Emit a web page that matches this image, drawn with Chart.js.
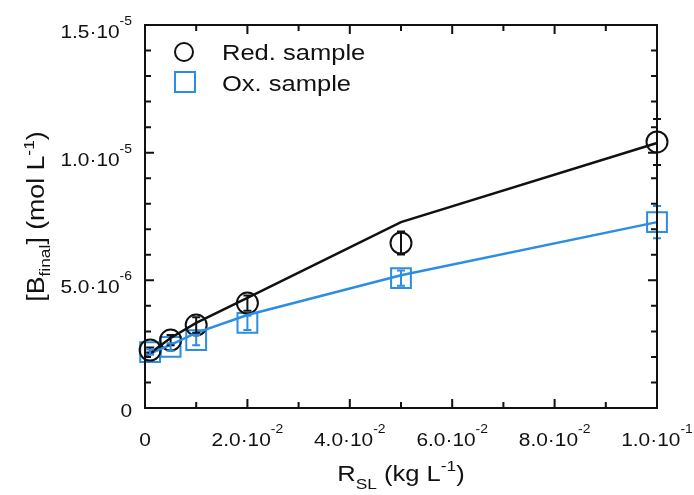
<!DOCTYPE html>
<html>
<head>
<meta charset="utf-8">
<script src="https://cdn.jsdelivr.net/npm/chart.js@4.4.0/dist/chart.umd.min.js"></script>
<style>
html, body { margin: 0; padding: 0; background: #fff; }
</style>
</head>
<body>
<canvas id="chart" width="694" height="495"></canvas>
<script>
// R_SL (kg/L) of the measured points
const rslValues = [0.001, 0.005, 0.01, 0.02, 0.05, 0.1];
// measured [B_final] (mol/L) and error bars
const redMeasured = [2.27e-6, 2.66e-6, 3.25e-6, 4.11e-6, 6.46e-6, 1.042e-5];
const redError = [0.1e-6, 0.2e-6, 0.3e-6, 0.3e-6, 0.45e-6, 0.9e-6];
const oxMeasured = [2.19e-6, 2.39e-6, 2.66e-6, 3.33e-6, 5.09e-6, 7.28e-6];
const oxError = [0.1e-6, 0.15e-6, 0.2e-6, 0.28e-6, 0.3e-6, 0.63e-6];
// model curves
const modelRsl = [0, 0.005, 0.01, 0.02, 0.05, 0.1];
const redModel = [2.0e-6, 2.74e-6, 3.33e-6, 4.31e-6, 7.28e-6, 1.038e-5];
const oxModel = [2.05e-6, 2.47e-6, 2.94e-6, 3.64e-6, 5.2e-6, 7.28e-6];

const seriesNames = ['Red. sample', 'Ox. sample'];

// tick labels: [mantissa, exponent]
const xTickValues = [0, 0.02, 0.04, 0.06, 0.08, 0.1];
const xTickLabels = [['0', ''], ['2.0·10', '-2'], ['4.0·10', '-2'], ['6.0·10', '-2'], ['8.0·10', '-2'], ['1.0·10', '-1']];
const yTickValues = [0, 5e-6, 1e-5, 1.5e-5];
const yTickLabels = [['0', ''], ['5.0·10', '-6'], ['1.0·10', '-5'], ['1.5·10', '-5']];
const xMinorStep = 0.01;
const yMinorStep = 1e-6;

const BLACK = '#111111';
const BLUE = '#2b8de3';
const FONT = '"Liberation Sans", Arial, sans-serif';
const SX = 1.16; // text in the picture is a bit wide

const toXY = (xs, ys) => xs.map((x, i) => ({ x: x, y: ys[i] }));

// draws a run of text pieces (normal / super / sub) on one baseline
function richText(ctx, parts, x, y, align) {
   let total = 0;
   parts.forEach(p => {
      ctx.font = p.size + 'px ' + FONT;
      p.w = ctx.measureText(p.t).width * SX;
      total += p.w;
   });
   let cx = x;
   if (align === 'center') cx = x - total / 2;
   if (align === 'right') cx = x - total;
   ctx.textAlign = 'left';
   ctx.textBaseline = 'alphabetic';
   parts.forEach(p => {
      ctx.font = p.size + 'px ' + FONT;
      ctx.save();
      ctx.translate(cx, y + (p.dy || 0));
      ctx.scale(SX, 1);
      ctx.fillText(p.t, 0, 0);
      ctx.restore();
      cx += p.w;
   });
}

function tickParts(label) {
   const parts = [{ t: label[0], size: 18 }];
   if (label[1]) parts.push({ t: label[1], size: 12, dy: -13 });
   return parts;
}

const errorBars = {
   id: 'errorBars',
   afterDatasetsDraw(chart) {
      const ctx = chart.ctx;
      const xs = chart.scales.x, ys = chart.scales.y;
      const sets = [[redMeasured, redError, BLACK], [oxMeasured, oxError, BLUE]];
      ctx.save();
      ctx.lineWidth = 2;
      sets.forEach(([vals, errs, col]) => {
         ctx.strokeStyle = col;
         vals.forEach((v, i) => {
            const px = xs.getPixelForValue(rslValues[i]);
            const top = ys.getPixelForValue(v + errs[i]);
            const bot = ys.getPixelForValue(v - errs[i]);
            ctx.beginPath();
            ctx.moveTo(px, top); ctx.lineTo(px, bot);
            ctx.moveTo(px - 4, top); ctx.lineTo(px + 4, top);
            ctx.moveTo(px - 4, bot); ctx.lineTo(px + 4, bot);
            ctx.stroke();
         });
      });
      ctx.restore();
   }
};

const frameAndText = {
   id: 'frameAndText',
   afterDraw(chart) {
      const ctx = chart.ctx;
      const a = chart.chartArea;
      const xs = chart.scales.x, ys = chart.scales.y;
      ctx.save();
      ctx.strokeStyle = BLACK;
      ctx.fillStyle = BLACK;
      ctx.lineWidth = 2;
      ctx.strokeRect(a.left, a.top, a.right - a.left, a.bottom - a.top);

      // inward ticks on all four sides
      ctx.beginPath();
      for (let k = 0; k <= Math.round(xs.max / xMinorStep); k++) {
         const px = xs.getPixelForValue(k * xMinorStep);
         const len = k % 2 === 0 ? 9 : 6;
         ctx.moveTo(px, a.bottom); ctx.lineTo(px, a.bottom - len);
         ctx.moveTo(px, a.top); ctx.lineTo(px, a.top + len);
      }
      for (let k = 0; k <= Math.round(ys.max / yMinorStep); k++) {
         const py = ys.getPixelForValue(k * yMinorStep);
         const len = k % 5 === 0 ? 9 : 6;
         ctx.moveTo(a.left, py); ctx.lineTo(a.left + len, py);
         ctx.moveTo(a.right, py); ctx.lineTo(a.right - len, py);
      }
      ctx.stroke();

      // tick labels
      xTickValues.forEach((v, i) => {
         richText(ctx, tickParts(xTickLabels[i]), xs.getPixelForValue(v), a.bottom + 38, 'center');
      });
      yTickValues.forEach((v, i) => {
         const py = ys.getPixelForValue(v);
         const off = yTickLabels[i][1] ? 13 : 9;
         richText(ctx, tickParts(yTickLabels[i]), a.left - 13, py + off, 'right');
      });

      // axis titles
      richText(ctx, [
         { t: 'R', size: 22 },
         { t: 'SL', size: 15, dy: 8 },
         { t: ' (kg L', size: 22 },
         { t: '-1', size: 15, dy: -10 },
         { t: ')', size: 22 }
      ], (a.left + a.right) / 2, a.bottom + 73, 'center');

      ctx.save();
      ctx.translate(44, (a.top + a.bottom) / 2);
      ctx.rotate(-Math.PI / 2);
      richText(ctx, [
         { t: '[B', size: 23 },
         { t: 'final', size: 15, dy: 6 },
         { t: '] (mol L', size: 23 },
         { t: '-1', size: 15, dy: -10 },
         { t: ')', size: 23 }
      ], 0, 0, 'center');
      ctx.restore();

      // legend
      ctx.lineWidth = 2;
      ctx.strokeStyle = BLACK;
      ctx.beginPath();
      ctx.arc(a.left + 39, a.top + 27, 9, 0, Math.PI * 2);
      ctx.stroke();
      richText(ctx, [{ t: seriesNames[0], size: 22 }], a.left + 77, a.top + 35, 'left');
      ctx.strokeStyle = BLUE;
      ctx.strokeRect(a.left + 30, a.top + 47, 20, 20);
      richText(ctx, [{ t: seriesNames[1], size: 22 }], a.left + 77, a.top + 66, 'left');
      ctx.restore();
   }
};

const ctx = document.getElementById('chart').getContext('2d');
new Chart(ctx, {
   type: 'scatter',
   data: {
      datasets: [
         {
            label: 'Red. model',
            data: toXY(modelRsl, redModel),
            showLine: true,
            borderColor: BLACK,
            borderWidth: 2.5,
            pointRadius: 0,
            tension: 0,
            clip: false,
         },
         {
            label: 'Ox. model',
            data: toXY(modelRsl, oxModel),
            showLine: true,
            borderColor: BLUE,
            borderWidth: 2.5,
            pointRadius: 0,
            tension: 0,
            clip: false,
         },
         {
            label: seriesNames[0],
            data: toXY(rslValues, redMeasured),
            showLine: false,
            pointStyle: 'circle',
            pointRadius: 10.5,
            pointBorderWidth: 2,
            pointBorderColor: BLACK,
            pointBackgroundColor: 'rgba(0,0,0,0)',
            clip: false,
         },
         {
            label: seriesNames[1],
            data: toXY(rslValues, oxMeasured),
            showLine: false,
            pointStyle: 'rect',
            pointRadius: 14,
            pointBorderWidth: 2,
            pointBorderColor: BLUE,
            pointBackgroundColor: 'rgba(0,0,0,0)',
            clip: false,
         }
      ]
   },
   options: {
      responsive: false,
      animation: false,
      devicePixelRatio: 1,
      layout: { padding: { left: 145, right: 37, top: 25, bottom: 87 } },
      plugins: {
         legend: { display: false },
         tooltip: { enabled: false },
      },
      scales: {
         x: {
            type: 'linear', min: 0, max: 0.1,
            ticks: { display: false },
            grid: { display: false, drawTicks: false },
            border: { display: false },
         },
         y: {
            type: 'linear', min: 0, max: 1.5e-5,
            ticks: { display: false },
            grid: { display: false, drawTicks: false },
            border: { display: false },
         }
      }
   },
   plugins: [errorBars, frameAndText]
});
</script>
</body>
</html>
